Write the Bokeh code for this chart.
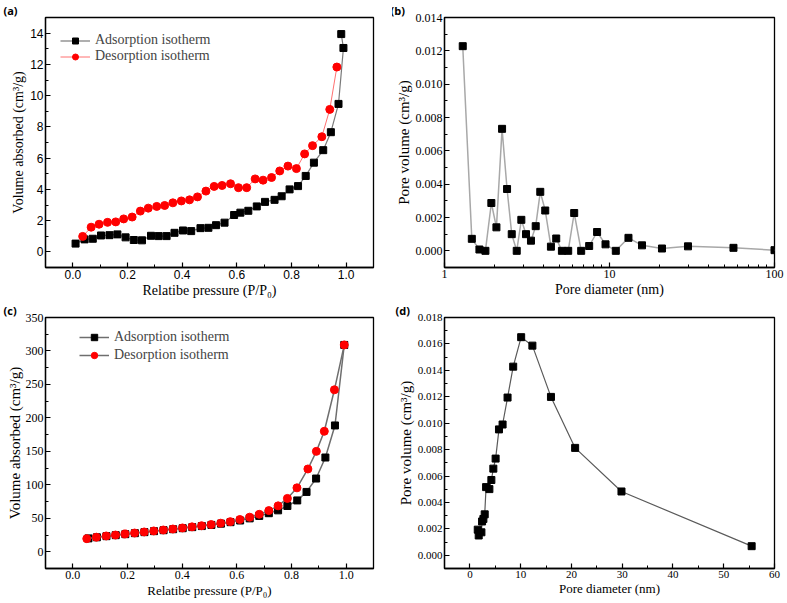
from bokeh.plotting import figure
from bokeh.layouts import gridplot
from bokeh.models import FixedTicker, NumeralTickFormatter, Range1d
from bokeh.embed import file_html
from bokeh.resources import INLINE

# ---------------- data ----------------
# (a) isotherm, sample 1
a_ads_p = [0.010, 0.043, 0.073, 0.103, 0.134, 0.163, 0.193, 0.223, 0.253, 0.286, 0.314,
           0.343, 0.372, 0.403, 0.433, 0.467, 0.496, 0.524, 0.555, 0.590, 0.613, 0.642,
           0.673, 0.703, 0.738, 0.764, 0.793, 0.824, 0.852, 0.882, 0.916, 0.944, 0.972,
           0.990, 0.982]
a_ads_v = [0.53, 0.80, 0.84, 1.05, 1.07, 1.12, 0.93, 0.76, 0.74, 1.03, 1.01, 1.01, 1.22,
           1.37, 1.33, 1.52, 1.54, 1.71, 1.87, 2.36, 2.51, 2.63, 2.91, 3.20, 3.33, 3.56,
           4.00, 4.21, 4.86, 5.71, 6.51, 7.66, 9.47, 13.05, 13.94]
a_des_p = [0.036, 0.067, 0.096, 0.127, 0.157, 0.186, 0.217, 0.247, 0.276, 0.307, 0.336,
           0.366, 0.397, 0.427, 0.456, 0.487, 0.517, 0.546, 0.577, 0.606, 0.636, 0.667,
           0.696, 0.727, 0.757, 0.787, 0.818, 0.848, 0.877, 0.911, 0.940, 0.966]
a_des_v = [0.99, 1.58, 1.77, 1.89, 1.92, 2.11, 2.23, 2.61, 2.80, 2.91, 2.97, 3.14, 3.26,
           3.33, 3.52, 3.89, 4.19, 4.25, 4.36, 4.11, 4.11, 4.67, 4.59, 4.76, 5.18, 5.49,
           5.33, 6.27, 6.80, 7.37, 9.12, 11.83]

# (b) pore size distribution, sample 1 (log x)
b_d = [1.29, 1.464, 1.628, 1.77, 1.923, 2.064, 2.233, 2.394, 2.556, 2.74, 2.922, 3.119,
       3.343, 3.571, 3.806, 4.079, 4.416, 4.755, 5.147, 5.62, 6.11, 6.736, 7.53, 8.41,
       9.46, 10.92, 13.03, 15.74, 20.8, 29.9, 56.4, 100]
b_v = [0.01228, 0.00072, 0.00008, 0.0, 0.00287, 0.00141, 0.00732, 0.00371, 0.00100, 0.0,
       0.00186, 0.00100, 0.00061, 0.00148, 0.00354, 0.00242, 0.00025, 0.00074, 0.0, 0.0,
       0.00227, 0.0, 0.00029, 0.00113, 0.00039, 0.0, 0.00078, 0.00033, 0.00014, 0.00027,
       0.00018, 0.00004]

# (c) isotherm, sample 2
c_ads_p = [0.057, 0.088, 0.123, 0.157, 0.192, 0.227, 0.262, 0.297, 0.332, 0.367, 0.402,
           0.437, 0.472, 0.507, 0.542, 0.577, 0.612, 0.647, 0.682, 0.717, 0.751, 0.785,
           0.821, 0.855, 0.890, 0.924, 0.959, 0.993]
c_ads_v = [20.0, 21.6, 23.3, 24.8, 26.3, 27.8, 29.3, 30.8, 32.2, 33.7, 35.2, 36.8, 38.4,
           40.1, 42.0, 44.2, 46.7, 49.9, 53.6, 57.6, 61.9, 68.4, 76.7, 89.4, 109.4, 140.8,
           188.7, 309.0]
c_des_p = [0.051, 0.086, 0.122, 0.156, 0.191, 0.226, 0.261, 0.296, 0.331, 0.366, 0.401,
           0.436, 0.471, 0.506, 0.541, 0.576, 0.611, 0.647, 0.682, 0.717, 0.751, 0.785,
           0.820, 0.860, 0.891, 0.920, 0.957, 0.993]
c_des_v = [19.6, 21.8, 23.6, 25.0, 26.6, 28.0, 29.6, 31.1, 32.5, 34.0, 35.6, 37.2, 38.9,
           40.6, 42.7, 45.0, 48.2, 51.7, 56.0, 61.5, 68.6, 79.7, 95.5, 123.7, 150.0, 180.0,
           242.0, 309.0]

# (d) pore size distribution, sample 2 (linear x)
d_d = [1.55, 1.74, 2.27, 2.40, 2.66, 2.92, 3.19, 3.84, 4.23, 4.62, 5.07, 5.73, 6.44, 7.42,
       8.53, 10.1, 12.31, 15.97, 20.73, 29.86, 55.5]
d_v = [0.00194, 0.00150, 0.00174, 0.00256, 0.00275, 0.00310, 0.00516, 0.00501, 0.00570,
       0.00656, 0.00732, 0.00953, 0.00990, 0.01194, 0.01428, 0.01651, 0.01587, 0.01199,
       0.00813, 0.00483, 0.00069]

# axis texts
iso_xlabel = "Relatibe pressure (P/P\u2080)"
iso_ylabel = "Volume absorbed (cm\u00b3/g)"
psd_xlabel = "Pore diameter (nm)"
psd_ylabel = "Pore volume (cm\u00b3/g)"
legend_ads = "Adsorption isotherm"
legend_des = "Desorption isotherm"
panel_names = ["(a)", "(b)", "(c)", "(d)"]

SERIF = "Liberation Serif"
SANS = "Liberation Sans"


def make_fig(w, h, xr, yr, borders, title, title_offset, x_axis_type="linear"):
    p = figure(width=w, height=h, x_range=Range1d(*xr), y_range=Range1d(*yr),
               x_axis_type=x_axis_type, output_backend="svg", toolbar_location=None,
               min_border_left=borders[0], min_border_right=borders[1],
               min_border_top=borders[2], min_border_bottom=borders[3])
    p.title.text = title
    p.title.align = "left"
    p.title.offset = title_offset
    p.title.standoff = 0
    p.title.text_font = "Open Sans"
    p.title.text_font_style = "bold"
    p.title.text_font_size = "11px"
    p.title.text_line_height = 0.8
    p.title.text_color = "black"
    p.xgrid.visible = False
    p.ygrid.visible = False
    p.outline_line_color = "black"
    p.outline_line_width = 1.3
    p.outline_line_alpha = 1
    p.background_fill_color = "white"
    p.border_fill_color = "white"
    for ax in (p.xaxis[0], p.yaxis[0]):
        ax.axis_line_width = 1.3
        ax.axis_line_color = "black"
        ax.major_tick_in = 5
        ax.major_tick_out = 0
        ax.minor_tick_in = 3
        ax.minor_tick_out = 0
        ax.major_tick_line_width = 1.2
        ax.minor_tick_line_width = 1
        ax.major_tick_line_color = "black"
        ax.minor_tick_line_color = "black"
        ax.axis_label_text_font = SERIF
        ax.axis_label_text_font_style = "normal"
        ax.axis_label_text_color = "black"
        ax.axis_label_text_line_height = 1.0
        ax.major_label_text_color = "black"
        ax.major_label_text_font = SERIF
        ax.major_label_text_font_size = "12px"
        ax.major_label_text_line_height = 1.0
        ax.major_label_standoff = 2
        ax.axis_label_standoff = 1
    p.xaxis[0].axis_label_text_font_size = "14px"
    p.yaxis[0].axis_label_text_font_size = "15px"
    return p


def style_legend(p, loc, gh, pad, spacing):
    lg = p.legend[0]
    lg.location = loc
    lg.margin = 0
    lg.padding = pad
    lg.spacing = spacing
    lg.glyph_width = 30
    lg.glyph_height = gh
    lg.label_height = gh
    lg.label_standoff = 5
    lg.label_text_font = SERIF
    lg.label_text_font_size = "14px"
    lg.background_fill_alpha = 0
    lg.border_line_alpha = 0


W1, W2 = 392, 393
H1, H2 = 300, 301

# ---------------- (a) ----------------
pa = make_fig(W1, H1, (-0.1, 1.1), (-1, 15), (45, 19, 14, 33), panel_names[0], -42)
pa.xaxis[0].ticker = FixedTicker(ticks=[0, 0.2, 0.4, 0.6, 0.8, 1.0],
                                 minor_ticks=[-0.1, 0.1, 0.3, 0.5, 0.7, 0.9, 1.1])
pa.xaxis[0].formatter = NumeralTickFormatter(format="0.0")
pa.yaxis[0].ticker = FixedTicker(ticks=[0, 2, 4, 6, 8, 10, 12, 14],
                                 minor_ticks=[-1, 1, 3, 5, 7, 9, 11, 13, 15])
for ax in (pa.xaxis[0], pa.yaxis[0]):
    ax.major_label_text_font = SANS
pa.xaxis[0].axis_label = iso_xlabel
pa.yaxis[0].axis_label = iso_ylabel
pa.yaxis[0].axis_label_text_font_size = "14px"
pa.line(a_ads_p, a_ads_v, line_color="#7a7a7a", line_width=1.2, legend_label=legend_ads)
pa.scatter(a_ads_p, a_ads_v, marker="square", size=7, fill_color="black",
           line_color="black", legend_label=legend_ads)
pa.line(a_des_p, a_des_v, line_color="#ff7070", line_width=1.0, legend_label=legend_des)
pa.scatter(a_des_p, a_des_v, marker="circle", size=8, fill_color="red",
           line_color="red", legend_label=legend_des)
style_legend(pa, "top_left", 15, 15, 0)

# ---------------- (b) ----------------
pb = make_fig(W2, H1, (1, 100), (-0.001, 0.014), (51, 8, 14, 33), panel_names[1], -54,
              x_axis_type="log")
pb.xaxis[0].ticker = FixedTicker(ticks=[1, 10, 100],
                                 minor_ticks=[2, 3, 4, 5, 6, 7, 8, 9,
                                              20, 30, 40, 50, 60, 70, 80, 90])
pb.xaxis[0].formatter = NumeralTickFormatter(format="0")
pb.yaxis[0].ticker = FixedTicker(ticks=[0, 0.002, 0.004, 0.006, 0.008, 0.010, 0.012, 0.014],
                                 minor_ticks=[-0.001, 0.001, 0.003, 0.005, 0.007, 0.009,
                                              0.011, 0.013])
pb.yaxis[0].formatter = NumeralTickFormatter(format="0.000")
pb.xaxis[0].axis_label = psd_xlabel
pb.yaxis[0].axis_label = psd_ylabel
pb.line(b_d, b_v, line_color="#a8a8a8", line_width=1.5)
pb.scatter(b_d, b_v, marker="square", size=7, fill_color="black", line_color="black")

# ---------------- (c) ----------------
pc = make_fig(W1, H2, (-0.1, 1.1), (-25, 350), (45, 19, 14, 33), panel_names[2], -42)
pc.xaxis[0].ticker = FixedTicker(ticks=[0, 0.2, 0.4, 0.6, 0.8, 1.0],
                                 minor_ticks=[-0.1, 0.1, 0.3, 0.5, 0.7, 0.9, 1.1])
pc.xaxis[0].formatter = NumeralTickFormatter(format="0.0")
pc.yaxis[0].ticker = FixedTicker(ticks=[0, 50, 100, 150, 200, 250, 300, 350],
                                 minor_ticks=[25, 75, 125, 175, 225, 275, 325])
pc.xaxis[0].axis_label = iso_xlabel
pc.yaxis[0].axis_label = iso_ylabel
pc.xaxis[0].axis_label_text_font_size = "13px"
pc.yaxis[0].axis_label_standoff = 0
pc.line(c_ads_p, c_ads_v, line_color="#6e6e6e", line_width=1.5, legend_label=legend_ads)
pc.scatter(c_ads_p, c_ads_v, marker="square", size=7, fill_color="black",
           line_color="black", legend_label=legend_ads)
pc.line(c_des_p, c_des_v, line_color="#6e6e6e", line_width=1.5, legend_label=legend_des)
pc.scatter(c_des_p, c_des_v, marker="circle", size=8, fill_color="red",
           line_color="red", legend_label=legend_des)
style_legend(pc, (34, (H2 - 14 - 33) - 49), 16, 0, 2)

# ---------------- (d) ----------------
pd_ = make_fig(W2, H2, (-5, 60), (-0.001, 0.018), (49, 11, 15, 28), panel_names[3], -49)
pd_.xaxis[0].ticker = FixedTicker(ticks=[0, 10, 20, 30, 40, 50, 60],
                                  minor_ticks=[-5, 5, 15, 25, 35, 45, 55])
pd_.yaxis[0].ticker = FixedTicker(ticks=[0, 0.002, 0.004, 0.006, 0.008, 0.010, 0.012,
                                         0.014, 0.016, 0.018],
                                  minor_ticks=[-0.001, 0.001, 0.003, 0.005, 0.007, 0.009,
                                               0.011, 0.013, 0.015, 0.017])
pd_.yaxis[0].formatter = NumeralTickFormatter(format="0.000")
for ax in (pd_.xaxis[0], pd_.yaxis[0]):
    ax.major_label_text_font_size = "11px"
pd_.xaxis[0].axis_label = psd_xlabel
pd_.yaxis[0].axis_label = psd_ylabel
pd_.xaxis[0].axis_label_text_font_size = "13px"
pd_.xaxis[0].axis_label_standoff = 0
pd_.line(d_d, d_v, line_color="#5a5a5a", line_width=1.2)
pd_.scatter(d_d, d_v, marker="square", size=7, fill_color="black", line_color="black")

grid = gridplot([[pa, pb], [pc, pd_]], toolbar_location=None)

open("out.html", "w").write(file_html(grid, INLINE))
